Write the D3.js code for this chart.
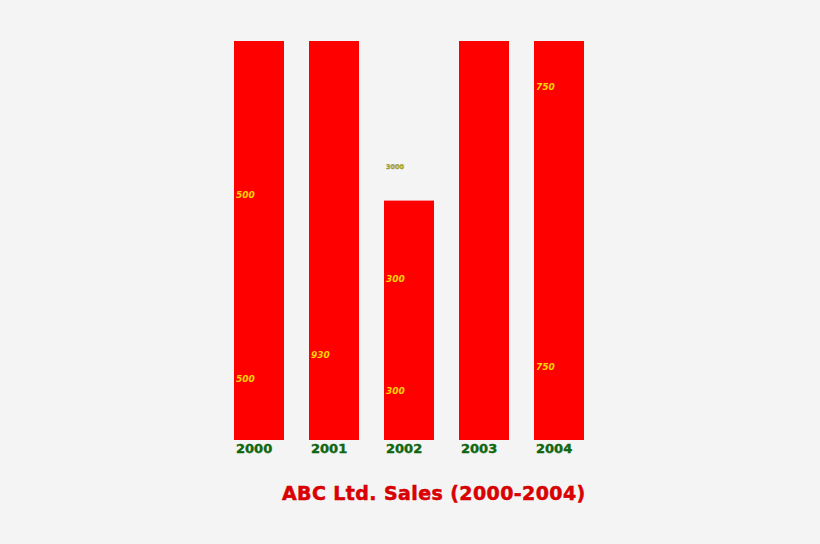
<!DOCTYPE html>
<html>
<head>
<meta charset="utf-8">
<script src="https://cdn.jsdelivr.net/npm/d3@7"></script>
<style>
  html, body { margin: 0; padding: 0; background: #f4f4f4; }
</style>
</head>
<body>
<div id="chart"></div>
<script>
// years and bar totals (2001, 2003, 2004 run past the top of the axis)
const years = ['2000', '2001', '2002', '2003', '2004'];
const barTotals = [1000, 1200, 600, 1200, 1500];

// value labels: text, year, and where they sit on the value axis
const labelTexts = ['500', '500', '930', '300', '300', '750', '750', '3000'];
const labelYears = ['2000', '2000', '2001', '2002', '2002', '2004', '2004', '2002'];
const labelAt = [153, 614, 213, 123, 403, 183, 885, 685];

const title = 'ABC Ltd. Sales (2000-2004)';

const width = 820, height = 544;
const plot = {left: 234, right: 584, top: 41, bottom: 440};

const svg = d3.select('#chart')
    .append('svg')
    .attr('width', width)
    .attr('height', height);

svg.append('rect')
    .attr('width', width)
    .attr('height', height)
    .attr('fill', '#f4f4f4');

const x = d3.scaleBand()
    .domain(years)
    .range([plot.left, plot.right])
    .paddingInner(1 / 3)
    .paddingOuter(0);

const y = d3.scaleLinear()
    .domain([0, 1000])
    .range([plot.bottom, plot.top])
    .clamp(true);

// bars
svg.append('g')
    .selectAll('rect')
    .data(years)
    .enter()
    .append('rect')
    .attr('x', d => x(d))
    .attr('width', x.bandwidth())
    .attr('y', (d, i) => y(barTotals[i]))
    .attr('height', (d, i) => y(0) - y(barTotals[i]))
    .attr('fill', '#ff0000');

// value labels inside bars
const labels = labelTexts.map((t, i) => ({text: t, year: labelYears[i], at: labelAt[i]}));

svg.append('g')
    .selectAll('text')
    .data(labels)
    .enter()
    .append('text')
    .attr('x', d => x(d.year) + 2)
    .attr('y', d => y(d.at))
    .attr('dy', '0.35em')
    .attr('font-family', 'DejaVu Sans, Verdana, sans-serif')
    .attr('font-size', d => d.text.length > 3 ? 6.5 : 9)
    .attr('font-style', d => d.text.length > 3 ? 'normal' : 'italic')
    .attr('font-weight', 'bold')
    .attr('fill', d => d.text.length > 3 ? '#d8d000' : '#ffd400')
    .attr('stroke', d => d.text.length > 3 ? '#555' : 'none')
    .attr('stroke-width', 0.3)
    .text(d => d.text);

// year labels under bars
svg.append('g')
    .selectAll('text')
    .data(years)
    .enter()
    .append('text')
    .attr('x', d => x(d) + 2)
    .attr('y', plot.bottom + 8)
    .attr('dy', '0.35em')
    .attr('font-family', 'DejaVu Sans, Verdana, sans-serif')
    .attr('font-size', 13)
    .attr('font-weight', 'bold')
    .attr('fill', '#0d6b0d')
    .attr('stroke', '#0d5a0d')
    .attr('stroke-width', 0.4)
    .text(d => d);

// title
svg.append('text')
    .attr('x', 282)
    .attr('y', 493)
    .attr('dy', '0.35em')
    .attr('font-family', 'DejaVu Sans, Verdana, sans-serif')
    .attr('font-size', 19)
    .attr('font-weight', 'bold')
    .attr('letter-spacing', 0.4)
    .attr('fill', '#dd0000')
    .attr('stroke', '#cc0000')
    .attr('stroke-width', 0.5)
    .text(title);
</script>
</body>
</html>
